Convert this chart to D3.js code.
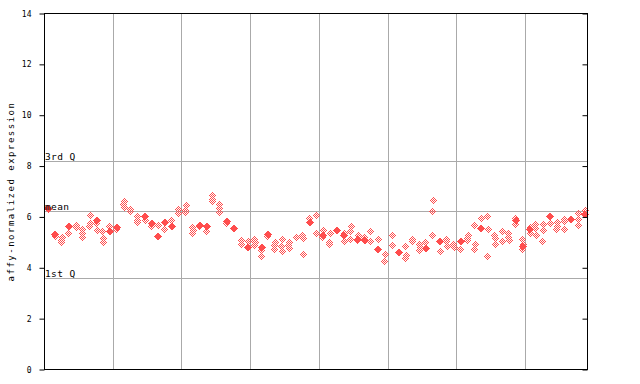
<!DOCTYPE html>
<html>
<head>
<meta charset="utf-8">
<script src="https://cdn.jsdelivr.net/npm/d3@7"></script>
<style>
  html, body { margin: 0; padding: 0; background: #fff; }
  svg { display: block; }
  text { font-family: "DejaVu Sans Mono", "Liberation Mono", monospace; fill: #000; }
</style>
</head>
<body>
<svg id="chart" width="640" height="384"></svg>
<script>
// ---- data ----
const yTicks = [0, 2, 4, 6, 8, 10, 12, 14];
const groupSizes = [10, 10, 10, 10, 10, 10, 10, 9];
const refLabels = ["3rd Q", "mean", "1st Q"];
const refValues = [8.2, 6.22, 3.61];

// checkered (replicate) points per sample
const checkerValues = [
  [6.30], [5.24], [5.20, 5.10, 5.00], [5.38], [5.70, 5.60],
  [5.54, 5.38, 5.21], [6.09, 5.78, 5.63], [5.76, 5.50], [5.44, 5.19, 5.03], [5.63],
  [5.54], [6.63, 6.52, 6.39], [6.30, 6.22], [6.05, 5.89, 5.79], [5.87],
  [5.63], [5.67], [5.54], [5.87], [6.33, 6.17],
  [6.46, 6.29, 6.18], [5.60, 5.50, 5.38], [5.66], [5.44], [6.85, 6.72, 6.63],
  [6.52, 6.35, 6.19], [5.78], [], [5.08, 4.92], [5.04],
  [5.14, 5.01, 4.88], [4.71, 4.48], [5.25], [5.01, 4.88, 4.75], [5.12, 4.85, 4.66],
  [5.01, 4.88, 4.78], [5.21], [5.30, 5.19, 4.53], [5.97], [6.06, 5.38],
  [5.50, 5.21], [5.37, 5.01, 4.92], [], [5.38, 5.04], [5.64, 5.43, 5.14],
  [5.27, 5.08], [5.21], [5.43, 5.04], [5.14], [4.53, 4.25],
  [5.27, 4.91], [], [4.87, 4.49, 4.40], [5.14, 5.04], [4.92, 4.82, 4.71],
  [5.01], [6.68, 6.23, 5.27], [4.65], [5.14, 5.04, 4.85], [4.92, 4.82],
  [4.75], [5.27, 5.17, 5.08], [5.67, 4.92, 4.75], [5.97], [6.02, 5.54, 4.48],
  [5.27, 5.18, 4.95], [5.44, 5.04], [5.38, 5.21, 5.10], [5.97, 5.73], [5.14, 4.92, 4.75],
  [5.60, 5.38], [5.73, 5.58, 5.30], [5.73, 5.50, 5.04], [5.78], [5.80, 5.64, 5.54],
  [5.93, 5.84, 5.54], [], [6.17, 5.93, 5.70], [6.29]
];
// solid points per sample
const solidValues = [
  [6.35], [5.34], [], [5.64], [],
  [], [], [5.87], [], [5.44],
  [5.60], [], [], [], [6.05],
  [5.78], [5.25], [5.80], [5.64], [],
  [], [], [5.70], [5.64], [],
  [], [5.83], [5.56], [], [4.82],
  [], [4.82], [5.34], [], [],
  [], [], [], [5.80], [],
  [5.27], [], [5.50], [5.30], [],
  [5.14], [5.08], [], [4.74], [],
  [], [4.63], [], [], [],
  [4.78], [], [5.04], [], [],
  [5.04], [], [], [5.56], [],
  [], [], [], [5.87], [4.84],
  [5.51], [], [], [6.05], [],
  [], [5.90], [], [6.10]
];
const samples = checkerValues.map((_, i) => "S" + (i + 1));

// ---- layout ----
const svg = d3.select("#chart");
const mLeft = 44, mRight = 587, mTop = 14, mBottom = 369;
const red = "#ff4d4d";

const x = d3.scaleBand().domain(samples).range([mLeft, mRight]).padding(0);
const y = d3.scaleLinear().domain([0, 14]).range([mBottom + 0.5, mTop - 0.5]);

const defs = svg.append("defs");
const pat = defs.append("pattern").attr("id", "chk")
  .attr("patternUnits", "userSpaceOnUse").attr("width", 2).attr("height", 2);
pat.append("rect").attr("x", 0).attr("y", 0).attr("width", 1).attr("height", 1).attr("fill", red);
pat.append("rect").attr("x", 1).attr("y", 1).attr("width", 1).attr("height", 1).attr("fill", red);

// vertical group separators
let cum = 0;
const boundaries = [];
groupSizes.slice(0, -1).forEach(s => { cum += s; boundaries.push(samples[cum]); });
svg.append("g").selectAll("line").data(boundaries).join("line")
  .attr("x1", d => Math.round(x(d)) + 0.5).attr("x2", d => Math.round(x(d)) + 0.5)
  .attr("y1", mTop).attr("y2", mBottom)
  .attr("stroke", "#aaaaaa").attr("stroke-width", 1);

// reference lines
svg.append("g").selectAll("line").data(refValues).join("line")
  .attr("x1", mLeft).attr("x2", mRight)
  .attr("y1", d => Math.round(y(d)) + 0.5).attr("y2", d => Math.round(y(d)) + 0.5)
  .attr("stroke", "#aaaaaa").attr("stroke-width", 1);

// points
const diamond = (cx, cy, r) => `M${cx},${cy - r}L${cx + r},${cy}L${cx},${cy + r}L${cx - r},${cy}Z`;
const chkPts = [], solPts = [];
samples.forEach((s, i) => {
  checkerValues[i].forEach(v => chkPts.push({ s, v }));
  solidValues[i].forEach(v => solPts.push({ s, v }));
});
const px = d => Math.round(x(d.s) + x.bandwidth() / 2) + 0.5;
const py = d => Math.round(y(d.v)) + 0.5;
svg.append("g").selectAll("path").data(chkPts).join("path")
  .attr("d", d => diamond(px(d), py(d), 4))
  .attr("fill", "url(#chk)").attr("shape-rendering", "crispEdges");
svg.append("g").selectAll("path").data(solPts).join("path")
  .attr("d", d => diamond(px(d), py(d), 4))
  .attr("fill", red).attr("shape-rendering", "crispEdges");

// reference labels
svg.append("g").selectAll("text").data(refValues).join("text")
  .attr("x", mLeft + 1).attr("y", d => Math.round(y(d)) - 1)
  .attr("font-size", 9.5).attr("letter-spacing", 0.4)
  .text((d, i) => refLabels[i]);

// frame
svg.append("rect").attr("x", mLeft + 0.5).attr("y", mTop - 0.5)
  .attr("width", mRight - mLeft).attr("height", mBottom - mTop + 1)
  .attr("fill", "none").attr("stroke", "#000").attr("stroke-width", 1);

// left axis
const yAxis = d3.axisLeft(y).tickValues(yTicks).tickSize(5).tickPadding(8).tickFormat(d3.format("d"));
const gA = svg.append("g").attr("transform", `translate(${mLeft + 0.5},0)`).call(yAxis);
gA.select(".domain").remove();
gA.selectAll("text").attr("font-size", 8).attr("font-family", "DejaVu Sans Mono, monospace").attr("fill", "#000");

// right axis ticks (inward)
const yAxisR = d3.axisRight(y).tickValues(yTicks).tickSize(-5).tickFormat("");
const gR = svg.append("g").attr("transform", `translate(${mRight + 0.5},0)`).call(yAxisR);
gR.select(".domain").remove();

// y label
svg.append("text")
  .attr("transform", `translate(14,${(mTop + mBottom) / 2}) rotate(-90)`)
  .attr("text-anchor", "middle").attr("font-size", 9).attr("letter-spacing", 1.5)
  .text("affy-normalized expression");
</script>
</body>
</html>
